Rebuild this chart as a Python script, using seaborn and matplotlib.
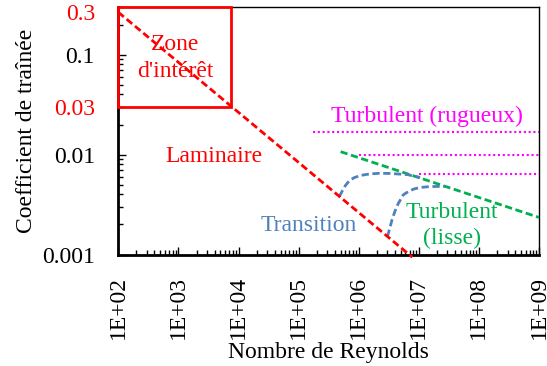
import matplotlib
matplotlib.use("Agg")
import matplotlib.pyplot as plt
import matplotlib.ticker as mticker
from matplotlib.patches import Rectangle
import seaborn as sns

# Drag coefficient of a flat plate vs Reynolds number
lam_re = [1e2, 7.8e6]
lam_cd = [0.266, 0.00094]

turb_smooth_re = [5e5, 1e9]
turb_smooth_cd = [0.0107, 0.00235]

rough_re_start = [1.76e5, 1e6, 1e7]
rough_cd = [0.017, 0.010, 0.0064]
re_max = 1e9

trans1_re = [4.75e5, 5.3e5, 6.0e5, 7.0e5, 8.5e5, 1.1e6, 1.5e6, 2.2e6, 3.2e6, 4.5e6, 6.5e6, 1.05e7]
trans1_cd = [0.0038, 0.0043, 0.0049, 0.0055, 0.0059, 0.0062, 0.0064, 0.0065, 0.00648, 0.0064, 0.0063, 0.0059]

trans2_re = [3.0e6, 3.3e6, 3.6e6, 4.0e6, 4.5e6, 5.5e6, 6.8e6, 8.5e6, 1.1e7, 1.5e7, 2.0e7, 2.7e7]
trans2_cd = [0.00151, 0.00185, 0.00225, 0.0027, 0.0032, 0.00395, 0.0043, 0.00455, 0.0047, 0.00478, 0.0048, 0.0048]

zone_re = (1e2, 7.5e3)
zone_cd = (0.03, 0.3)

x_ticks = [1e2, 1e3, 1e4, 1e5, 1e6, 1e7, 1e8, 1e9]
x_tick_labels = ["1E+02", "1E+03", "1E+04", "1E+05", "1E+06", "1E+07", "1E+08", "1E+09"]
y_ticks = [0.001, 0.01, 0.1]
y_tick_labels = ["0.001", "0.01", "0.1"]
y_marks = [0.27, 0.03]
y_mark_labels = ["0.3", "0.03"]

RED = "#FF0000"
MAGENTA = "#FF00FF"
GREEN = "#00B050"
BLUE = "#4F81BD"

sns.set_theme(style="ticks")
plt.rcParams["font.family"] = ["Liberation Serif", "DejaVu Serif"]
plt.rcParams["mathtext.fontset"] = "stix"
FS = 17

fig = plt.figure(figsize=(5.47, 3.66), dpi=100)
ax = fig.add_axes([0.2163, 0.3046, 0.7691, 0.6762])
ax.set_xscale("log")
ax.set_yscale("log")
ax.set_xlim(1e2, 1e9)
ax.set_ylim(0.001, 0.3)

dash = (0, (2.6, 1.3))
dot = (0, (1.0, 1.3))

sns.lineplot(x=lam_re, y=lam_cd, ax=ax, color=RED, lw=2.0, linestyle=dash,
             sort=False, estimator=None, clip_on=False, zorder=4)
sns.lineplot(x=turb_smooth_re, y=turb_smooth_cd, ax=ax, color=GREEN, lw=2.0,
             linestyle=dash, sort=False, estimator=None, zorder=3)
for r0, cd in zip(rough_re_start, rough_cd):
    sns.lineplot(x=[r0, re_max], y=[cd, cd], ax=ax, color=MAGENTA, lw=1.5,
                 linestyle=dot, sort=False, estimator=None, zorder=2)
sns.lineplot(x=trans1_re, y=trans1_cd, ax=ax, color=BLUE, lw=2.0, linestyle=dash,
             sort=False, estimator=None, zorder=3)
sns.lineplot(x=trans2_re, y=trans2_cd, ax=ax, color=BLUE, lw=2.0, linestyle=dash,
             sort=False, estimator=None, zorder=3)

ax.add_patch(Rectangle((zone_re[0], zone_cd[0]), zone_re[1] - zone_re[0],
                       zone_cd[1] - zone_cd[0], fill=False, edgecolor=RED,
                       lw=2.0, clip_on=False, zorder=5))

# annotations
ax.text(877, 0.112, "Zone", color=RED, fontsize=FS, ha="center", va="baseline")
ax.text(877, 0.0605, "d'intérêt", color=RED, fontsize=FS, ha="center", va="baseline")
ax.text(3840, 0.00845, "Laminaire", color=RED, fontsize=FS, ha="center", va="baseline")
ax.text(1.34e7, 0.0214, "Turbulent (rugueux)", color=MAGENTA, fontsize=FS,
        ha="center", va="baseline")
ax.text(1.49e5, 0.00173, "Transition", color=BLUE, fontsize=FS, ha="center", va="baseline")
ax.text(3.58e7, 0.00231, "Turbulent", color=GREEN, fontsize=FS, ha="center", va="baseline")
ax.text(3.58e7, 0.00127, "(lisse)", color=GREEN, fontsize=FS, ha="center", va="baseline")

# axes and ticks
ax.set_xticks(x_ticks)
ax.set_xticklabels(x_tick_labels, rotation=90, fontsize=FS)
ax.set_yticks(y_ticks)
ax.set_yticklabels(y_tick_labels, fontsize=FS)
ax.xaxis.set_minor_locator(mticker.LogLocator(base=10, subs=range(2, 10), numticks=20))
ax.yaxis.set_minor_locator(mticker.LogLocator(base=10, subs=range(2, 10), numticks=20))
ax.xaxis.set_minor_formatter(mticker.NullFormatter())
ax.yaxis.set_minor_formatter(mticker.NullFormatter())
ax.tick_params(which="both", direction="in", colors="black", width=1.0,
               top=False, right=False)
ax.tick_params(which="major", length=5.5)
ax.tick_params(which="minor", length=3.5)
ax.tick_params(axis="x", which="major", pad=15.5)
ax.tick_params(axis="y", which="major", pad=16.8)

for yv, lab in zip(y_marks, y_mark_labels):
    ax.text(-0.0554, yv, lab, transform=ax.get_yaxis_transform(), color=RED,
            fontsize=FS, ha="right", va="center_baseline", clip_on=False)

for side in ["left", "bottom"]:
    ax.spines[side].set_linewidth(2.0)
    ax.spines[side].set_color("black")
for side in ["top", "right"]:
    ax.spines[side].set_visible(True)
    ax.spines[side].set_linewidth(1.0)
    ax.spines[side].set_color("black")

ax.set_xlabel("Nombre de Reynolds", fontsize=FS, color="black")
ax.set_ylabel("Coefficient de traînée", fontsize=FS, color="black")
ax.xaxis.set_label_coords(0.5, -0.3535)
ax.yaxis.set_label_coords(-0.193, 0.5)

fig.savefig("out.png", dpi=100)
